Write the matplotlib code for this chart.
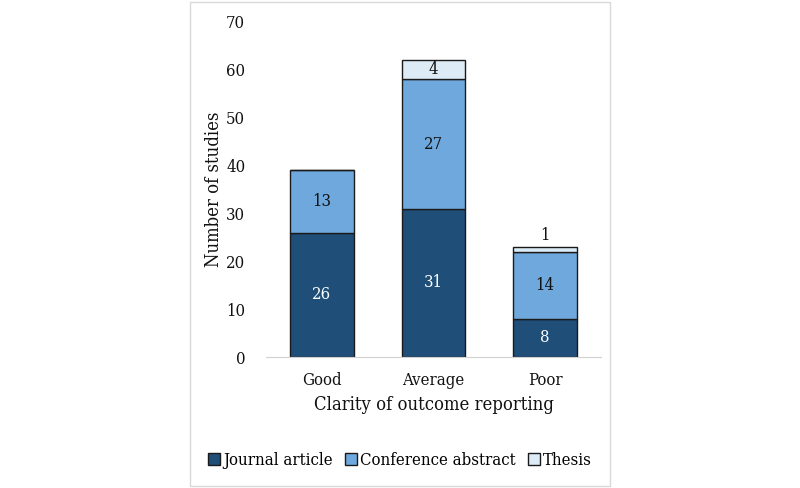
import matplotlib
matplotlib.use("Agg")
import matplotlib.pyplot as plt
from matplotlib.patches import Rectangle, Patch
import numpy as np

categories = ["Good", "Average", "Poor"]
journal = [26, 31, 8]
conference = [13, 27, 14]
thesis = [0, 4, 1]
series_names = ["Journal article", "Conference abstract", "Thesis"]
colors = ["#1F4E79", "#6FA8DC", "#DDEBF7"]
label_colors = ["white", "#111111", "#111111"]

plt.rcParams['font.family'] = ['DejaVu Serif']
plt.rcParams['font.stretch'] = 'condensed'

fig = plt.figure(figsize=(8, 4.88), dpi=100)
ax = fig.add_axes([0.3325, 0.2684, 0.4188, 0.6866])

x = np.arange(len(categories))
width = 0.57
bottoms = np.zeros(len(categories))
for vals, col, lc in zip([journal, conference, thesis], colors, label_colors):
    vals = np.array(vals, dtype=float)
    ax.bar(x, vals, width, bottom=bottoms, color=col, edgecolor="#1a1a1a", linewidth=1.0)
    for xi, v, b in zip(x, vals, bottoms):
        if v <= 0:
            continue
        if v < 2:
            ax.text(xi, b + v + 0.6, f"{int(v)}", ha="center", va="bottom", fontsize=12, color="#111111")
        else:
            ax.text(xi, b + v / 2, f"{int(v)}", ha="center", va="center", fontsize=12, color=lc)
    bottoms += vals

ax.set_xlim(-0.5, 2.5)
ax.set_ylim(0, 70)
ax.set_yticks(range(0, 71, 10))
ax.set_xticks(x)
ax.set_xticklabels(categories)
ax.tick_params(axis="both", length=0, labelsize=12, colors="#111111")
ax.tick_params(axis="y", pad=15)
ax.tick_params(axis="x", pad=11)
for s in ["top", "right", "left"]:
    ax.spines[s].set_visible(False)
ax.spines["bottom"].set_color("#d0d0d0")
ax.set_ylabel("Number of studies", fontsize=13.2, color="#111111", labelpad=2)
ax.set_xlabel("Clarity of outcome reporting", fontsize=13.2, color="#111111", labelpad=5)

handles = [Patch(facecolor=c, edgecolor="#1a1a1a", linewidth=1.0) for c in colors]
fig.legend(handles, series_names, loc="center", bbox_to_anchor=(0.5, 0.057), ncol=3,
           frameon=False, fontsize=12, handlelength=0.7, handleheight=0.7,
           handletextpad=0.2, columnspacing=0.75)

border = Rectangle((190 / 800, 2 / 488), 420 / 800, 484 / 488, transform=fig.transFigure,
                   fill=False, edgecolor="#d9d9d9", linewidth=1.0)
fig.patches.append(border)

fig.savefig("out.png", dpi=100)
